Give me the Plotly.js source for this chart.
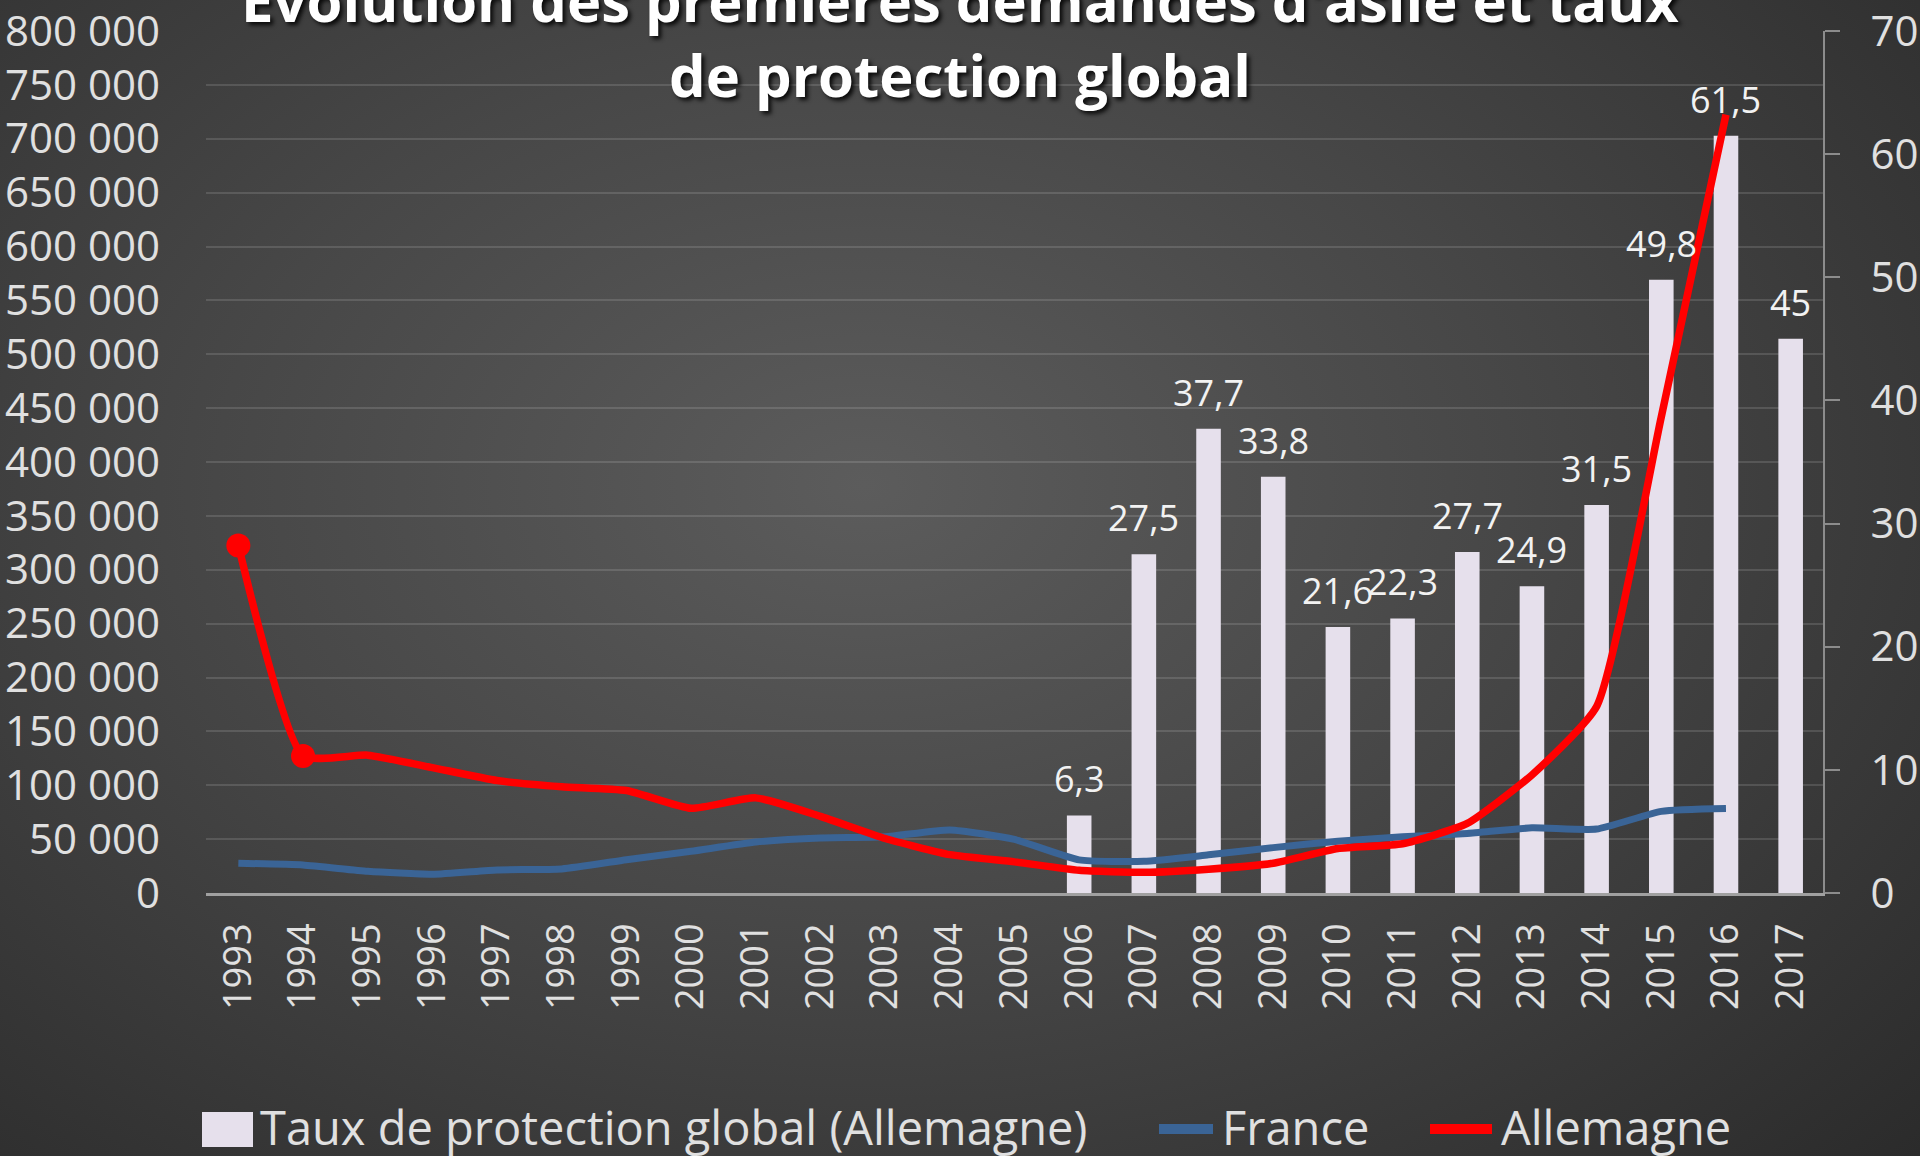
<!DOCTYPE html>
<html>
<head>
<meta charset="utf-8">
<script src="https://cdn.plot.ly/plotly-3.0.1.min.js"></script>
<style>
html, body { margin:0; padding:0; width:1920px; height:1156px; overflow:hidden;
  background: radial-gradient(ellipse 75% 85% at 45% 42%, #5c5c5c 0%, #474747 45%, #2b2b2b 100%); }
#chart { width:1920px; height:1156px; }
</style>
</head>
<body>
<div id="chart"></div>
<script>
const years = ["1993","1994","1995","1996","1997","1998","1999","2000","2001","2002","2003","2004","2005","2006","2007","2008","2009","2010","2011","2012","2013","2014","2015","2016","2017"];
const tauxAllemagne = [null,null,null,null,null,null,null,null,null,null,null,null,null,6.3,27.5,37.7,33.8,21.6,22.3,27.7,24.9,31.5,49.8,61.5,45];
const france = [27564,25964,20170,17405,21416,22375,30907,38747,47291,51087,52204,58545,49733,30748,29387,35404,42118,48074,52147,55255,60461,59313,75750,78370,null];
const allemagne = [322599,127210,127937,116367,104353,98644,95113,78564,88287,71127,50563,35607,28914,21029,19164,22085,27649,41332,45741,64539,109580,173072,441899,722370,null];
const allemagneMarkers = [24,24,0,0,0,0,0,0,0,0,0,0,0,0,0,0,0,0,0,0,0,0,0,0,0];
const seriesNames = ['Taux de protection global (Allemagne)', 'France', 'Allemagne'];
const seriesColors = ['#e6e0ec', '#3a6496', '#ff0000'];

const txtColor = '#e0e0e0';
const font = 'Open Sans, Noto Sans, sans-serif';

// plot area in pixels
const L = 206, R = 1823, T = 31, B = 893;
const px = X => (X - L) / (R - L);
const py = Y => (B - Y) / (B - T);

const traces = [
  {
    type:'bar', name:seriesNames[0],
    x: years, y: tauxAllemagne, yaxis:'y', width:0.38,
    marker:{color:seriesColors[0]}
  },
  {
    type:'scatter', mode:'lines', name:seriesNames[1],
    x: years, y: france, yaxis:'y2',
    line:{color:seriesColors[1], width:7, shape:'spline', smoothing:0.5}
  },
  {
    type:'scatter', mode:'lines+markers', name:seriesNames[2],
    x: years, y: allemagne, yaxis:'y2',
    line:{color:seriesColors[2], width:7.5, shape:'spline', smoothing:0.5},
    marker:{size:allemagneMarkers, color:seriesColors[2], opacity:1, line:{width:0}}
  }
];

// value labels above bars (placed via data coordinates; x = category index)
const barLabels = [];
tauxAllemagne.forEach((v, i) => {
  if (v === null) return;
  barLabels.push({
    text:String(v).replace('.', ','), xref:'x', yref:'y', x:i, y:v,
    xanchor:'center', yanchor:'bottom', yshift:10, showarrow:false,
    font:{size:36, color:'#f2f2f2', family:font}
  });
});

// manual legend (large symbols, as in the reference)
const legY = 1129;
const legendShapes = [
  {type:'rect', xref:'paper', yref:'paper', x0:px(202), x1:px(253), y0:py(1112), y1:py(1147),
   fillcolor:seriesColors[0], line:{width:0}},
  {type:'line', xref:'paper', yref:'paper', x0:px(1159), x1:px(1213), y0:py(legY), y1:py(legY),
   line:{color:seriesColors[1], width:10}},
  {type:'line', xref:'paper', yref:'paper', x0:px(1430), x1:px(1492), y0:py(legY), y1:py(legY),
   line:{color:seriesColors[2], width:10}}
];
const legendTextX = [258, 1220, 1499];
const legendAnn = seriesNames.map((n, i) => ({
  text:n, xref:'paper', yref:'paper', x:px(legendTextX[i]), y:py(legY - 2),
  xanchor:'left', yanchor:'middle', showarrow:false,
  font:{size:47, color:txtColor, family:font}
}));

const layout = {
  width:1920, height:1156,
  paper_bgcolor:'rgba(0,0,0,0)', plot_bgcolor:'rgba(0,0,0,0)',
  separators:', ',
  margin:{l:L, r:1920 - R, t:T, b:1156 - B, autoexpand:false},
  font:{family:font, color:txtColor},
  title:{
    text:'<b>Évolution des premières demandes d\'asile et taux<br>de protection global</b>',
    font:{size:58, color:'#ffffff', family:font, shadow:'3px 3px 4px rgba(0,0,0,0.85)'},
    xref:'container', x:0.5, xanchor:'center',
    yref:'container', y:1 - 22/1156, yanchor:'bottom'
  },
  showlegend:false,
  shapes:legendShapes,
  annotations:barLabels.concat(legendAnn),
  xaxis:{
    type:'category', tickangle:-90, tickfont:{size:38, color:txtColor},
    showgrid:false, showline:true, linecolor:'#a0a0a0', linewidth:3,
    ticks:'', ticklabelstandoff:12, range:[-0.5, 24.5]
  },
  yaxis:{
    side:'right', range:[0,70], dtick:10, showgrid:false, zeroline:false,
    showline:true, linecolor:'#8c8c8c', linewidth:2,
    ticks:'outside', ticklen:15, tickcolor:'#8c8c8c', tickwidth:2,
    tickfont:{size:42, color:txtColor}, ticklabelstandoff:22
  },
  yaxis2:{
    side:'left', overlaying:'y', range:[0,800000], dtick:50000,
    showgrid:true, gridcolor:'rgba(255,255,255,0.13)', gridwidth:2, zeroline:false,
    ticks:'', tickfont:{size:42, color:txtColor}, ticklabelstandoff:45,
    tickformat:',d'
  }
};

Plotly.newPlot('chart', traces, layout, {displayModeBar:false, staticPlot:true});
</script>
</body>
</html>
